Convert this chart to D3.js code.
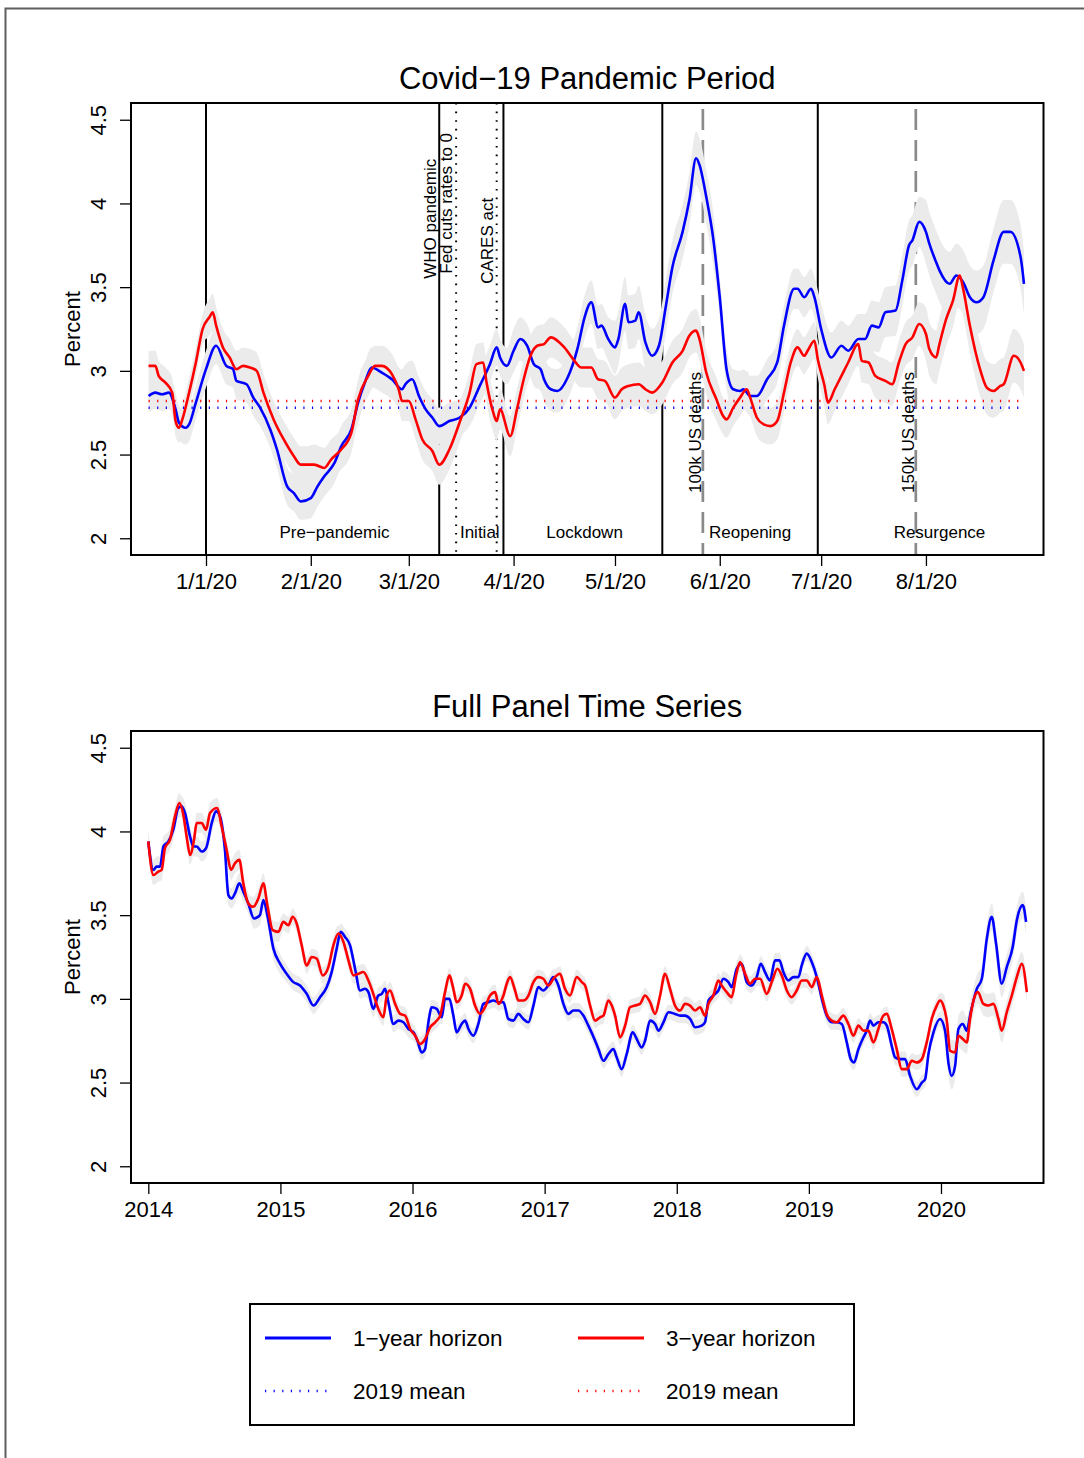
<!DOCTYPE html>
<html>
<head>
<meta charset="utf-8">
<script src="https://cdn.jsdelivr.net/npm/d3@7"></script>
<style>
  html, body { margin: 0; padding: 0; background: #ffffff; }
  svg text { font-family: "Liberation Sans", Arial, Helvetica, sans-serif; fill: #000; }
</style>
</head>
<body>
<svg id="chart" width="1084" height="1458"></svg>
<script>
// ---------------------------------------------------------------------------
// Covid-19 period: daily inflation expectations, days counted from 2020-01-01
// ---------------------------------------------------------------------------
const covidDays1y = [-17,-15,-13,-11,-9,-8,-6,-5,-3,0,3,6,8,9,12,14,16,19,21,24,26,28,31,33,35,38,40,43,45,47,
  49,52,55,58,59,61,63,65,67,69,72,75,78,81,84,86,87,89,91,93,95,97,99,100,102,104,107,110,112,114,
  116,117,119,121,122,124,125,127,128,130,132,134,136,138,141,143,145,146,148,150,152,154,156,158,159,161,163,166,169,171,
  174,175,177,179,180,182,185,188,190,193,195,197,199,201,204,206,208,209,211,213,214,216,217,220,222,224,226,228,230,233,
  236,238,241,242];
const covidRate1y = [2.85,2.87,2.86,2.87,2.77,2.69,2.66,2.68,2.81,3.01,3.15,3.03,3.01,2.94,2.92,2.84,2.78,2.65,2.53,2.31,
  2.27,2.22,2.24,2.31,2.37,2.45,2.55,2.65,2.81,2.93,3.02,2.99,2.95,2.89,2.92,2.95,2.85,2.77,2.72,2.67,
  2.70,2.72,2.78,2.91,3.04,3.14,3.08,3.03,3.12,3.19,3.15,3.04,3.01,2.95,2.89,2.88,2.96,3.14,3.32,3.41,
  3.26,3.27,3.19,3.14,3.19,3.40,3.29,3.30,3.35,3.17,3.09,3.15,3.38,3.62,3.83,4.02,4.27,4.23,4.04,3.80,
  3.44,3.01,2.89,2.88,2.89,2.85,2.85,2.95,3.05,3.27,3.49,3.49,3.44,3.49,3.44,3.25,3.08,3.15,3.12,3.19,
  3.19,3.27,3.26,3.35,3.36,3.54,3.75,3.78,3.89,3.83,3.76,3.65,3.60,3.52,3.57,3.53,3.44,3.41,3.44,3.66,
  3.83,3.83,3.68,3.52];

const covidDays3y = [-17,-15,-14,-12,-10,-9,-8,-7,-5,-3,-1,1,2,3,5,7,9,11,13,15,17,20,23,26,28,30,32,35,37,40,
  43,45,48,50,52,55,57,58,60,62,64,67,69,72,75,78,80,82,83,85,86,87,90,92,94,96,98,100,102,106,
  109,111,114,116,118,121,123,125,128,130,132,135,138,141,143,145,146,148,151,153,154,156,158,160,161,163,165,167,169,171,
  173,175,177,178,180,181,183,184,186,188,190,193,194,196,198,201,203,205,207,209,211,213,214,216,217,219,221,223,224,226,
  229,231,233,235,236,239,241,242];
const covidRate3y = [3.03,3.03,2.97,2.93,2.87,2.70,2.66,2.71,2.87,3.05,3.25,3.32,3.35,3.27,3.14,3.08,3.01,3.03,3.02,3.00,
  2.87,2.71,2.59,2.49,2.44,2.44,2.44,2.42,2.47,2.53,2.63,2.83,2.97,3.03,3.03,2.98,2.89,2.82,2.82,2.71,
  2.59,2.52,2.44,2.53,2.69,2.87,3.04,3.05,2.93,2.75,2.70,2.77,2.61,2.77,2.95,3.09,3.15,3.16,3.20,3.14,
  3.06,3.02,3.02,2.95,2.94,2.84,2.89,2.91,2.92,2.89,2.87,2.93,3.05,3.12,3.21,3.24,3.19,2.99,2.83,2.73,
  2.71,2.78,2.84,2.89,2.84,2.72,2.68,2.67,2.70,2.87,3.05,3.14,3.09,3.12,3.18,3.07,2.91,2.81,2.89,2.97,
  3.05,3.16,3.06,3.05,2.97,2.94,2.92,3.05,3.16,3.20,3.28,3.22,3.13,3.08,3.16,3.31,3.42,3.57,3.49,3.27,
  3.01,2.90,2.88,2.91,2.92,3.09,3.05,3.00];

// Half-width of the shaded uncertainty band, by calendar month (Dec 2019 .. Aug 2020)
const covidBandMonths = ["Dec","Jan","Feb","Mar","Apr","May","Jun","Jul","Aug"];
const covidBand1y = [0.10,0.11,0.12,0.11,0.13,0.16,0.12,0.15,0.19];
const covidBand3y = [0.09,0.11,0.12,0.12,0.12,0.13,0.11,0.13,0.16];

// 2019 averages of each horizon
const mean2019OneYear = 2.78;
const mean2019ThreeYear = 2.82;

// Axis ticks
const covidTickDates = ["2020-01-01","2020-02-01","2020-03-01","2020-04-01","2020-05-01","2020-06-01","2020-07-01","2020-08-01"];
const percentTicks = [2, 2.5, 3, 3.5, 4, 4.5];
const panelTickYears = [2014, 2015, 2016, 2017, 2018, 2019, 2020];

// Phases of the pandemic and events
const phaseBoundaryDates = ["2020-01-01","2020-03-10","2020-03-29","2020-05-15","2020-06-30"];
const phaseLabels = ["Pre\u2212pandemic","Initial","Lockdown","Reopening","Resurgence"];
const phaseLabelDates = ["2020-02-08","2020-03-22","2020-04-22","2020-06-10","2020-08-05"];
const whoDate = "2020-03-10";
const whoLabel = "WHO pandemic";
const whoLabelLevel = 3.55;
const policyDates = ["2020-03-15","2020-03-27"];
const policyLabels = ["Fed cuts rates to 0","CARES act"];
const policyLabelLevels = [3.58, 3.52];
const deathDates = ["2020-05-27","2020-07-29"];
const deathLabels = ["100k US deaths","150k US deaths"];
const deathLabelLevel = 2.27;

// ---------------------------------------------------------------------------
// Full panel 2014 - 2020 (decimal years)
// ---------------------------------------------------------------------------
const panelYears1y = [
  2014.000,2014.038,2014.063,2014.089,2014.114,2014.152,2014.189,2014.227,2014.253,2014.278,
  2014.316,2014.341,2014.366,2014.404,2014.437,2014.480,2014.513,2014.543,2014.580,2014.606,
  2014.631,2014.656,2014.689,2014.719,2014.757,2014.800,2014.845,2014.871,2014.901,2014.947,
  2014.997,2015.047,2015.098,2015.148,2015.199,2015.250,2015.300,2015.350,2015.388,2015.426,
  2015.456,2015.489,2015.527,2015.565,2015.603,2015.640,2015.666,2015.703,2015.741,2015.767,
  2015.792,2015.817,2015.855,2015.893,2015.931,2015.969,2016.007,2016.037,2016.069,2016.095,
  2016.120,2016.146,2016.183,2016.221,2016.246,2016.279,2016.309,2016.334,2016.372,2016.398,
  2016.423,2016.461,2016.498,2016.536,2016.574,2016.612,2016.650,2016.688,2016.725,2016.763,
  2016.801,2016.839,2016.877,2016.915,2016.952,2016.990,2017.028,2017.066,2017.104,2017.142,
  2017.180,2017.217,2017.255,2017.293,2017.331,2017.382,2017.407,2017.445,2017.482,2017.520,
  2017.546,2017.583,2017.621,2017.667,2017.697,2017.735,2017.760,2017.798,2017.836,2017.861,
  2017.899,2017.937,2017.987,2018.025,2018.063,2018.101,2018.139,2018.189,2018.214,2018.240,
  2018.277,2018.315,2018.353,2018.391,2018.416,2018.454,2018.492,2018.530,2018.568,2018.605,
  2018.636,2018.668,2018.706,2018.744,2018.777,2018.807,2018.845,2018.883,2018.921,2018.946,
  2018.984,2019.022,2019.060,2019.098,2019.135,2019.173,2019.211,2019.249,2019.287,2019.317,
  2019.342,2019.375,2019.413,2019.438,2019.463,2019.489,2019.526,2019.564,2019.590,2019.627,
  2019.653,2019.690,2019.728,2019.766,2019.817,2019.855,2019.880,2019.905,2019.943,2019.993,
  2020.031,2020.056,2020.081,2020.107,2020.132,2020.165,2020.195,2020.225,2020.271,2020.309,
  2020.347,2020.384,2020.417,2020.460,2020.498,2020.543,2020.574,2020.619,2020.644];
const panelRate1y = [
  3.94,3.77,3.79,3.79,3.91,3.94,4.01,4.14,4.15,4.11,
  3.97,3.91,3.91,3.88,3.90,4.05,4.12,4.09,3.89,3.62,
  3.60,3.63,3.69,3.64,3.57,3.48,3.50,3.59,3.50,3.30,
  3.21,3.15,3.10,3.08,3.03,2.96,3.01,3.07,3.16,3.30,
  3.40,3.37,3.32,3.18,3.05,3.06,3.04,2.94,3.02,3.03,
  3.06,2.98,2.85,2.87,2.86,2.82,2.80,2.75,2.68,2.70,
  2.86,2.95,2.94,2.89,3.00,3.00,2.90,2.80,2.85,2.87,
  2.82,2.78,2.85,2.97,2.98,2.99,2.98,2.98,2.88,2.87,
  2.91,2.88,2.86,2.96,3.07,3.05,3.08,3.13,3.08,2.97,
  2.91,2.93,2.93,2.90,2.84,2.75,2.70,2.63,2.67,2.70,
  2.65,2.58,2.67,2.80,2.76,2.71,2.75,2.87,2.85,2.81,
  2.86,2.92,2.91,2.90,2.90,2.88,2.83,2.84,2.86,2.99,
  3.02,3.05,3.12,3.10,3.07,3.18,3.21,3.10,3.08,3.13,
  3.21,3.16,3.11,3.23,3.23,3.16,3.11,3.13,3.13,3.20,
  3.27,3.22,3.13,3.00,2.90,2.86,2.86,2.85,2.74,2.64,
  2.62,2.70,2.77,2.81,2.87,2.84,2.86,2.86,2.84,2.72,
  2.65,2.64,2.64,2.54,2.46,2.50,2.52,2.67,2.80,2.88,
  2.81,2.62,2.54,2.60,2.82,2.85,2.81,2.92,3.06,3.12,
  3.36,3.49,3.33,3.09,3.19,3.31,3.47,3.56,3.46];

const panelYears3y = [
  2014.000,2014.038,2014.076,2014.101,2014.126,2014.164,2014.202,2014.235,2014.265,2014.290,
  2014.316,2014.346,2014.366,2014.404,2014.437,2014.467,2014.522,2014.555,2014.593,2014.626,
  2014.656,2014.689,2014.719,2014.757,2014.795,2014.833,2014.871,2014.901,2014.942,2014.984,
  2015.022,2015.060,2015.093,2015.123,2015.161,2015.199,2015.237,2015.275,2015.320,2015.363,
  2015.401,2015.439,2015.477,2015.515,2015.553,2015.590,2015.628,2015.666,2015.703,2015.741,
  2015.779,2015.805,2015.830,2015.868,2015.906,2015.944,2015.982,2016.020,2016.057,2016.095,
  2016.133,2016.171,2016.209,2016.246,2016.279,2016.309,2016.334,2016.372,2016.398,2016.436,
  2016.473,2016.511,2016.549,2016.587,2016.625,2016.650,2016.688,2016.713,2016.738,2016.776,
  2016.801,2016.839,2016.877,2016.915,2016.952,2016.990,2017.028,2017.066,2017.116,2017.154,
  2017.192,2017.243,2017.281,2017.306,2017.344,2017.382,2017.419,2017.445,2017.482,2017.508,
  2017.533,2017.571,2017.609,2017.646,2017.684,2017.722,2017.760,2017.798,2017.836,2017.874,
  2017.911,2017.949,2017.987,2018.025,2018.063,2018.101,2018.139,2018.176,2018.214,2018.240,
  2018.277,2018.315,2018.340,2018.378,2018.416,2018.449,2018.479,2018.517,2018.555,2018.593,
  2018.631,2018.681,2018.719,2018.762,2018.795,2018.833,2018.870,2018.908,2018.946,2018.984,
  2019.022,2019.060,2019.098,2019.135,2019.173,2019.211,2019.261,2019.299,2019.337,2019.375,
  2019.413,2019.450,2019.489,2019.526,2019.564,2019.590,2019.627,2019.665,2019.703,2019.741,
  2019.779,2019.817,2019.855,2019.892,2019.930,2019.968,2019.993,2020.018,2020.044,2020.069,
  2020.107,2020.132,2020.165,2020.195,2020.220,2020.246,2020.279,2020.321,2020.359,2020.397,
  2020.435,2020.460,2020.498,2020.536,2020.574,2020.612,2020.650];
const panelRate3y = [
  3.94,3.74,3.76,3.77,3.90,3.95,4.09,4.17,4.10,3.97,
  3.86,3.95,4.05,4.05,4.01,4.11,4.14,4.03,3.89,3.77,
  3.81,3.83,3.69,3.57,3.55,3.60,3.69,3.56,3.41,3.40,
  3.46,3.44,3.49,3.45,3.32,3.20,3.25,3.24,3.14,3.19,
  3.32,3.39,3.34,3.23,3.14,3.15,3.16,3.11,3.03,2.94,
  2.89,3.02,3.05,2.97,2.91,2.90,2.82,2.78,2.73,2.76,
  2.83,2.86,2.90,3.04,3.14,3.06,2.98,3.02,3.09,3.06,
  2.96,2.91,2.95,3.02,3.04,2.97,3.02,3.09,3.13,3.05,
  2.99,2.99,3.02,3.10,3.13,3.12,3.08,3.12,3.15,3.06,
  3.02,3.13,3.10,3.08,2.96,2.87,2.89,2.90,2.99,2.96,
  2.90,2.77,2.84,2.95,2.96,2.97,3.02,2.98,2.91,3.02,
  3.15,3.06,2.96,2.93,2.97,2.96,2.93,2.95,2.90,2.97,
  3.02,3.11,3.08,3.04,3.01,3.14,3.22,3.15,3.09,3.12,
  3.12,3.03,3.10,3.18,3.14,3.05,3.01,3.05,3.11,3.11,
  3.07,3.13,3.02,2.91,2.87,2.86,2.90,2.85,2.78,2.84,
  2.81,2.81,2.74,2.82,2.90,2.91,2.82,2.70,2.58,2.58,
  2.63,2.62,2.64,2.74,2.88,2.96,2.99,2.96,2.87,2.69,
  2.68,2.78,2.76,2.74,2.88,2.99,3.04,2.97,2.96,2.97,
  2.88,2.81,2.92,3.02,3.13,3.21,3.04];

// Half-width of the shaded band, by calendar year
const panelBandYears = [2014, 2015, 2016, 2017, 2018, 2019, 2020];
const panelBand1y = [0.06, 0.05, 0.045, 0.045, 0.045, 0.045, 0.08];
const panelBand3y = [0.06, 0.05, 0.045, 0.045, 0.045, 0.045, 0.07];

const legendLabels = ["1\u2212year horizon", "3\u2212year horizon", "2019 mean", "2019 mean"];

// ---------------------------------------------------------------------------
const BLUE = "#0000ff", RED = "#ff0000", BAND = "#ebebeb";
const DOT = "1.2,7.4";
const svg = d3.select("#chart");
const parseDay = d3.utcParse("%Y-%m-%d");
const ORIGIN = Date.UTC(2020, 0, 1);
const DAY_MS = 864e5;
const dayToDate = d => new Date(ORIGIN + d * DAY_MS);

// outer frame
svg.append("path")
  .attr("d", "M5.5,1458 V8.5 H1084")
  .attr("fill", "none").attr("stroke", "#5e5e5e").attr("stroke-width", 2);

function panelFrame(box, id) {
  svg.append("clipPath").attr("id", id)
    .append("rect").attr("x", box.x0).attr("y", box.y0)
    .attr("width", box.x1 - box.x0).attr("height", box.y1 - box.y0);
  return svg.append("g").attr("clip-path", `url(#${id})`);
}

function yAxis(y, box, g) {
  const ax = g.append("g").attr("transform", `translate(${box.x0},0)`)
    .call(d3.axisLeft(y).tickValues(percentTicks).tickSize(11).tickFormat(d3.format("")));
  ax.select(".domain").remove();
  ax.selectAll("line").attr("stroke", "#000").attr("stroke-width", 1.3);
  ax.selectAll("text")
    .attr("x", null).attr("dy", null)
    .attr("transform", "translate(-25,0) rotate(-90)")
    .attr("text-anchor", "middle")
    .style("font-size", "22px")
    .style("font-family", '"Liberation Sans", Arial, sans-serif');
  svg.append("text")
    .attr("transform", `translate(80,${(box.y0 + box.y1) / 2}) rotate(-90)`)
    .attr("text-anchor", "middle").style("font-size", "22px").text("Percent");
}

function xAxis(x, box, ticks, fmt) {
  const ax = svg.append("g").attr("transform", `translate(0,${box.y1})`)
    .call(d3.axisBottom(x).tickValues(ticks).tickSize(11).tickFormat(fmt));
  ax.select(".domain").remove();
  ax.selectAll("line").attr("stroke", "#000").attr("stroke-width", 1.3);
  ax.selectAll("text")
    .attr("y", 34).attr("dy", null)
    .style("font-size", "22px")
    .style("font-family", '"Liberation Sans", Arial, sans-serif');
}

function boxOutline(box) {
  svg.append("rect").attr("x", box.x0).attr("y", box.y0)
    .attr("width", box.x1 - box.x0).attr("height", box.y1 - box.y0)
    .attr("fill", "none").attr("stroke", "#000").attr("stroke-width", 2);
}

function title(text, box) {
  svg.append("text").attr("x", (box.x0 + box.x1) / 2).attr("y", box.y0 - 14)
    .attr("text-anchor", "middle").style("font-size", "31px").text(text);
}

// ===================== Panel 1: Covid-19 pandemic period =====================
const topBox = { x0: 131, x1: 1043.5, y0: 103, y1: 555 };
const xTop = d3.scaleUtc().domain([dayToDate(-22.19), dayToDate(247.78)]).range([topBox.x0, topBox.x1]);
const yTop = d3.scaleLinear().domain([1.9, 4.6]).range([topBox.y1, topBox.y0]);
const gTop = panelFrame(topBox, "clipTop");

const monthIndex = dt => dt.getUTCFullYear() < 2020 ? 0 : dt.getUTCMonth() + 1;
const topSeries = [
  { days: covidDays1y, vals: covidRate1y, band: covidBand1y, color: BLUE, mean: mean2019OneYear },
  { days: covidDays3y, vals: covidRate3y, band: covidBand3y, color: RED, mean: mean2019ThreeYear }
].map(s => ({
  ...s,
  pts: s.days.map((d, i) => {
    const dt = dayToDate(d);
    return { date: dt, v: s.vals[i], h: s.band[monthIndex(dt)] };
  })
}));

// phase boundaries, policy events and death milestones
gTop.selectAll(".phase").data(phaseBoundaryDates).join("line")
  .attr("x1", d => xTop(parseDay(d))).attr("x2", d => xTop(parseDay(d)))
  .attr("y1", topBox.y0).attr("y2", topBox.y1)
  .attr("stroke", "#000").attr("stroke-width", 2);
gTop.selectAll(".policy").data(policyDates).join("line")
  .attr("x1", d => xTop(parseDay(d))).attr("x2", d => xTop(parseDay(d)))
  .attr("y1", topBox.y0).attr("y2", topBox.y1)
  .attr("stroke", "#000").attr("stroke-width", 2).attr("stroke-dasharray", "1.6,7");
gTop.selectAll(".deaths").data(deathDates).join("line")
  .attr("x1", d => xTop(parseDay(d))).attr("x2", d => xTop(parseDay(d)))
  .attr("y1", topBox.y0 + 6).attr("y2", topBox.y1)
  .attr("stroke", "#8a8a8a").attr("stroke-width", 2.7).attr("stroke-dasharray", "21,10");

// uncertainty bands
topSeries.forEach(s => {
  gTop.append("path").datum(s.pts)
    .attr("fill", BAND)
    .attr("d", d3.area().curve(d3.curveMonotoneX)
      .x(p => xTop(p.date)).y0(p => yTop(p.v - p.h)).y1(p => yTop(p.v + p.h)));
});
// 2019 means
topSeries.forEach(s => {
  const ext = d3.extent(s.pts, p => p.date);
  gTop.append("line")
    .attr("x1", xTop(ext[0])).attr("x2", xTop(ext[1]))
    .attr("y1", yTop(s.mean)).attr("y2", yTop(s.mean))
    .attr("stroke", s.color).attr("stroke-width", 2.6).attr("stroke-dasharray", DOT);
});
// expectation lines
topSeries.forEach(s => {
  gTop.append("path").datum(s.pts)
    .attr("fill", "none").attr("stroke", s.color).attr("stroke-width", 2.6)
    .attr("stroke-linejoin", "round")
    .attr("d", d3.line().curve(d3.curveMonotoneX).x(p => xTop(p.date)).y(p => yTop(p.v)));
});

// rotated event labels
function vLabel(dateStr, level, text, off) {
  svg.append("text")
    .attr("transform", `translate(${xTop(parseDay(dateStr)) - off},${yTop(level)}) rotate(-90)`)
    .attr("text-anchor", "start").style("font-size", "17px").text(text);
}
vLabel(whoDate, whoLabelLevel, whoLabel, 3);
policyDates.forEach((d, i) => vLabel(d, policyLabelLevels[i], policyLabels[i], 4));
deathDates.forEach((d, i) => vLabel(d, deathLabelLevel, deathLabels[i], 1.5));

// phase names along the bottom
svg.selectAll(".phaseLabel").data(phaseLabels).join("text")
  .attr("x", (d, i) => xTop(parseDay(phaseLabelDates[i])))
  .attr("y", yTop(2.0))
  .attr("text-anchor", "middle").style("font-size", "17px").text(d => d);

boxOutline(topBox);
yAxis(yTop, topBox, svg);
xAxis(xTop, topBox, covidTickDates.map(parseDay), d3.utcFormat("%-m/%-d/%y"));
title("Covid\u221219 Pandemic Period", topBox);

// ===================== Panel 2: full panel time series =====================
const botBox = { x0: 131, x1: 1043.5, y0: 731, y1: 1183 };
const xBot = d3.scaleLinear().domain([2013.869, 2020.776]).range([botBox.x0, botBox.x1]);
const yBot = d3.scaleLinear().domain([1.9, 4.6]).range([botBox.y1, botBox.y0]);
const gBot = panelFrame(botBox, "clipBot");

const botSeries = [
  { yrs: panelYears1y, vals: panelRate1y, band: panelBand1y, color: BLUE },
  { yrs: panelYears3y, vals: panelRate3y, band: panelBand3y, color: RED }
].map(s => ({
  ...s,
  pts: s.yrs.map((t, i) => ({ t, v: s.vals[i], h: s.band[panelBandYears.indexOf(Math.floor(t))] }))
}));

botSeries.forEach(s => {
  gBot.append("path").datum(s.pts)
    .attr("fill", BAND)
    .attr("d", d3.area().curve(d3.curveMonotoneX)
      .x(p => xBot(p.t)).y0(p => yBot(p.v - p.h)).y1(p => yBot(p.v + p.h)));
});
botSeries.forEach(s => {
  gBot.append("path").datum(s.pts)
    .attr("fill", "none").attr("stroke", s.color).attr("stroke-width", 2.6)
    .attr("stroke-linejoin", "round")
    .attr("d", d3.line().curve(d3.curveMonotoneX).x(p => xBot(p.t)).y(p => yBot(p.v)));
});

boxOutline(botBox);
yAxis(yBot, botBox, svg);
xAxis(xBot, botBox, panelTickYears, d3.format("d"));
title("Full Panel Time Series", botBox);

// ===================== Legend =====================
const lg = svg.append("g");
lg.append("rect").attr("x", 250).attr("y", 1304).attr("width", 604).attr("height", 121)
  .attr("fill", "none").attr("stroke", "#000").attr("stroke-width", 2);
const legendItems = [
  { label: legendLabels[0], color: BLUE, dash: null, col: 0, row: 0 },
  { label: legendLabels[1], color: RED, dash: null, col: 1, row: 0 },
  { label: legendLabels[2], color: BLUE, dash: DOT, col: 0, row: 1 },
  { label: legendLabels[3], color: RED, dash: DOT, col: 1, row: 1 }
];
legendItems.forEach(it => {
  const x0 = 265 + it.col * 313, yy = 1338 + it.row * 53;
  lg.append("line").attr("x1", x0).attr("x2", x0 + 66).attr("y1", yy).attr("y2", yy)
    .attr("stroke", it.color).attr("stroke-width", it.dash ? 2.6 : 3)
    .attr("stroke-dasharray", it.dash);
  lg.append("text").attr("x", x0 + 88).attr("y", yy + 8)
    .style("font-size", "22.5px").text(it.label);
});
</script>
</body>
</html>
